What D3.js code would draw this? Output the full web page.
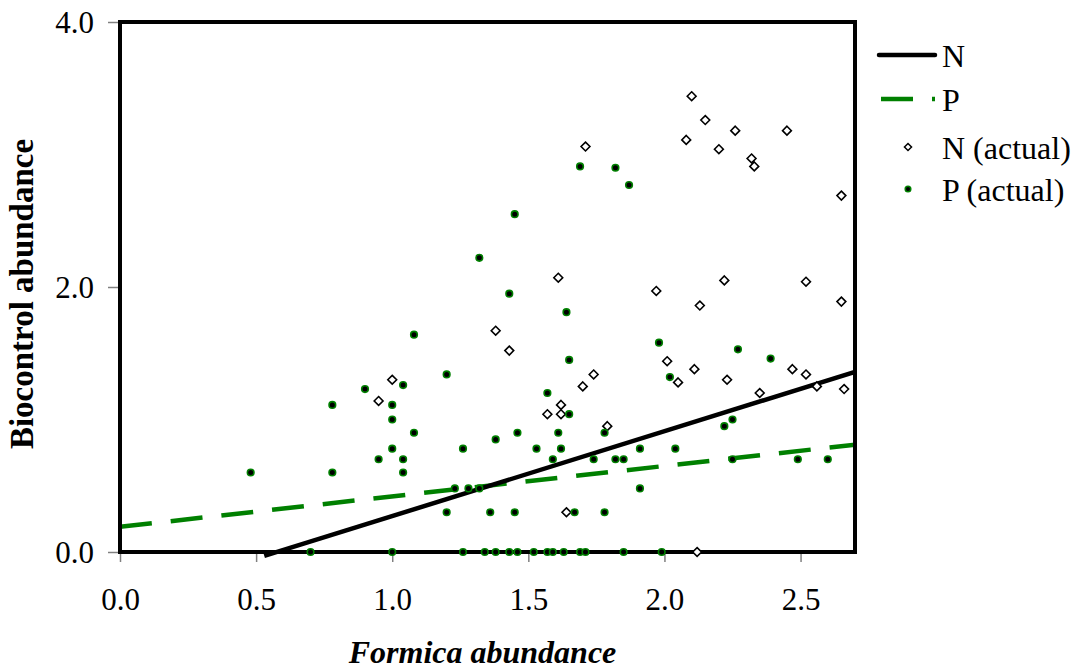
<!DOCTYPE html>
<html>
<head>
<meta charset="utf-8">
<script src="https://cdn.jsdelivr.net/npm/d3@7"></script>
<style>
  html, body { margin: 0; padding: 0; background: #fff; }
  svg { display: block; }
  svg text { font-family: "Liberation Serif", Tinos, "Times New Roman", Times, serif; }
</style>
</head>
<body>
<svg id="chart" width="1078" height="671"></svg>
<script>
// Observed N abundance (diamonds): [Formica abundance, biocontrol abundance]
const nActual = [
  [0.95,1.14],[1.00,1.30],[1.38,1.67],[1.43,1.52],[1.57,1.04],[1.61,2.07],[1.62,1.11],[1.62,1.04],
  [1.64,0.30],[1.70,1.25],[1.71,3.06],[1.74,1.34],[1.79,0.95],[1.97,1.97],[2.01,1.44],[2.05,1.28],
  [2.08,3.11],[2.10,3.44],[2.11,1.38],[2.12,0.00],[2.13,1.86],[2.15,3.26],[2.20,3.04],[2.22,2.05],
  [2.23,1.30],[2.26,3.18],[2.32,2.97],[2.33,2.91],[2.35,1.20],[2.45,3.18],[2.47,1.38],[2.52,2.04],
  [2.52,1.34],[2.56,1.25],[2.65,2.69],[2.65,1.89],[2.66,1.23]
];

// Observed P abundance (dots)
const pActual = [
  [1.08,1.64],[1.20,1.34],[1.04,1.26],[0.90,1.23],[0.78,1.11],[1.00,1.11],[1.00,1.00],[1.08,0.90],
  [1.38,0.85],[1.26,0.78],[1.00,0.78],[0.95,0.70],[1.04,0.70],[0.48,0.60],[0.78,0.60],[1.04,0.60],
  [1.23,0.48],[1.28,0.48],[1.32,0.48],[1.20,0.30],[1.36,0.30],
  [0.70,0],[1.00,0],[1.26,0],[1.34,0],[1.38,0],
  [1.64,1.81],[1.65,1.45],[1.98,1.58],[2.27,1.53],[2.39,1.46],[2.02,1.32],[1.57,1.20],[1.65,1.04],
  [1.46,0.90],[1.61,0.90],[1.78,0.90],[2.22,0.95],[2.25,1.00],[1.53,0.78],[1.62,0.78],[1.91,0.78],
  [2.04,0.78],[1.59,0.70],[1.74,0.70],[1.82,0.70],[1.85,0.70],[2.25,0.70],[2.49,0.70],[2.60,0.70],
  [1.91,0.48],[1.45,0.30],[1.67,0.30],[1.78,0.30],
  [1.43,0],[1.46,0],[1.52,0],[1.57,0],[1.59,0],[1.63,0],[1.69,0],[1.71,0],[1.85,0],[1.99,0],
  [1.69,2.91],[1.82,2.90],[1.87,2.77],[1.45,2.55],[1.43,1.95],[1.32,2.22]
];

// Fitted lines (endpoints)
const nTrend = [[0.53,-0.03],[2.70,1.36]];
const pTrend = [[0.00,0.19],[2.70,0.81]];

const xTicks = [0, 0.5, 1.0, 1.5, 2.0, 2.5];
const yTicks = [0, 2, 4];

const legendItems = ["N", "P", "N (actual)", "P (actual)"];
const xTitle = "Formica abundance";
const yTitle = "Biocontrol abundance";

const GREEN = "#008000";
const SERIF = "'Liberation Serif', Tinos, 'Times New Roman', Times, serif";
const margin = { left: 120, top: 22, right: 223, bottom: 119 };
const W = 1078, H = 671;
const plotW = W - margin.left - margin.right;
const plotH = H - margin.top - margin.bottom;

const svg = d3.select("#chart");
const x = d3.scaleLinear().domain([0, 2.7]).range([margin.left, margin.left + plotW]);
const y = d3.scaleLinear().domain([0, 4]).range([margin.top + plotH, margin.top]);

// Axes with small grey ticks outside the frame
const xAxis = svg.append("g")
  .attr("transform", `translate(0,${margin.top + plotH})`)
  .call(d3.axisBottom(x).tickValues(xTicks).tickFormat(d3.format(".1f")).tickSize(10).tickSizeOuter(0));
const yAxis = svg.append("g")
  .attr("transform", `translate(${margin.left},0)`)
  .call(d3.axisLeft(y).tickValues(yTicks).tickFormat(d3.format(".1f")).tickSize(12).tickSizeOuter(0));

[xAxis, yAxis].forEach(g => {
  g.attr("font-family", SERIF).attr("font-size", 31);
  g.select(".domain").remove();
  g.selectAll(".tick line").attr("stroke", "#808080").attr("stroke-width", 1.5);
  g.selectAll(".tick text").attr("fill", "#000");
});
xAxis.selectAll(".tick text").attr("dy", null).attr("y", 58);
yAxis.selectAll(".tick text").attr("x", -26).attr("dy", "0.35em");

// Clip for the plotting region
svg.append("clipPath").attr("id", "plotClip")
  .append("rect")
  .attr("x", margin.left).attr("y", margin.top - 10)
  .attr("width", plotW).attr("height", plotH + 20);

const line = d3.line().x(d => x(d[0])).y(d => y(d[1]));
const plot = svg.append("g").attr("clip-path", "url(#plotClip)");

plot.append("path").datum(pTrend)
  .attr("d", line)
  .attr("fill", "none").attr("stroke", GREEN).attr("stroke-width", 4.5)
  .attr("stroke-dasharray", "32,19");

plot.append("path").datum(nTrend)
  .attr("d", line)
  .attr("fill", "none").attr("stroke", "#000").attr("stroke-width", 4.5);

// Frame
svg.append("rect")
  .attr("x", margin.left).attr("y", margin.top)
  .attr("width", plotW).attr("height", plotH)
  .attr("fill", "none").attr("stroke", "#000").attr("stroke-width", 4);

const diamond = d3.symbol().type(d3.symbolDiamond2).size(50);

svg.append("g").selectAll("path").data(nActual).join("path")
  .attr("transform", d => `translate(${x(d[0])},${y(d[1])})`)
  .attr("d", diamond)
  .attr("fill", "#fff").attr("stroke", "#000").attr("stroke-width", 1.6);

svg.append("g").selectAll("circle").data(pActual).join("circle")
  .attr("cx", d => x(d[0])).attr("cy", d => y(d[1]))
  .attr("r", 3.3)
  .attr("fill", "#000").attr("stroke", GREEN).attr("stroke-width", 1.6);

// Axis titles
svg.append("text")
  .attr("x", (x.range()[0] + x.range()[1]) / 2 - 5)
  .attr("y", 663)
  .attr("text-anchor", "middle")
  .attr("font-family", SERIF)
  .style("font-size", "32px").style("font-weight", "bold").style("font-style", "italic")
  .text(xTitle);

svg.append("text")
  .attr("transform", `translate(33,294) rotate(-90)`)
  .attr("text-anchor", "middle")
  .attr("font-family", SERIF)
  .style("font-size", "33px").style("font-weight", "bold")
  .text(yTitle);

// Legend
const legend = svg.append("g");
const legY = [55, 99, 147, 189];
legend.append("line")
  .attr("x1", 879).attr("x2", 935).attr("y1", legY[0]).attr("y2", legY[0])
  .attr("stroke", "#000").attr("stroke-width", 4.5).attr("stroke-linecap", "round");
legend.append("line")
  .attr("x1", 881).attr("x2", 935).attr("y1", legY[1]).attr("y2", legY[1])
  .attr("stroke", GREEN).attr("stroke-width", 4.5).attr("stroke-dasharray", "32,19");
legend.append("path")
  .attr("transform", `translate(908,${legY[2]})`)
  .attr("d", d3.symbol().type(d3.symbolDiamond2).size(32))
  .attr("fill", "#fff").attr("stroke", "#000").attr("stroke-width", 1.5);
legend.append("circle")
  .attr("cx", 908).attr("cy", legY[3]).attr("r", 2.8)
  .attr("fill", "#000").attr("stroke", GREEN).attr("stroke-width", 1.5);
legend.selectAll("text").data(legendItems).join("text")
  .attr("x", 942)
  .attr("y", (d, i) => legY[i] + 1)
  .attr("dy", "0.35em")
  .attr("font-family", SERIF)
  .style("font-size", "32px")
  .text(d => d);
</script>
</body>
</html>
